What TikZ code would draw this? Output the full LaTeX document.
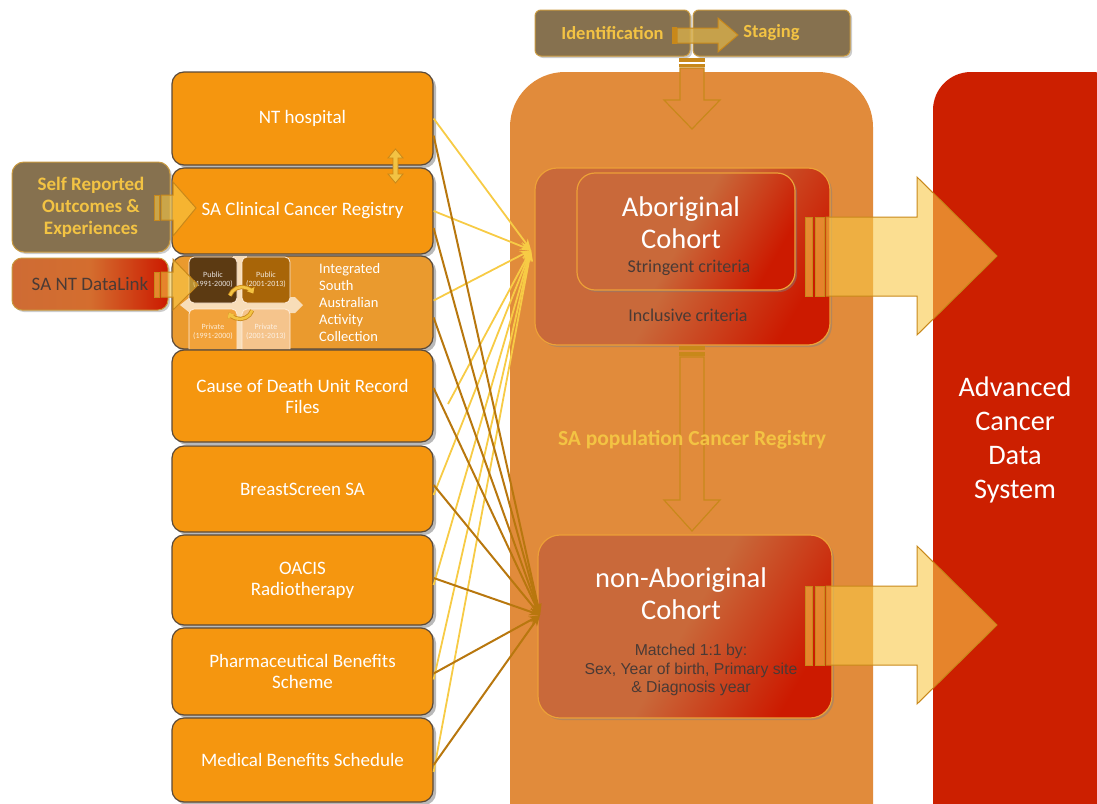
\documentclass[tikz,border=0pt]{standalone}
\usepackage{fontspec}
\setmainfont{Carlito}
\newfontfamily\arialf{Liberation Sans}
\usetikzlibrary{shadows,arrows.meta,calc}
\definecolor{srcorange}{HTML}{F5960F}
\definecolor{isaacorange}{HTML}{EA9A2E}
\definecolor{boxline}{HTML}{5A4A3A}
\definecolor{regbg}{HTML}{E18B3B}
\definecolor{olivebox}{HTML}{86714F}
\definecolor{goldtext}{HTML}{F3C343}
\definecolor{goldline}{HTML}{C99A40}
\definecolor{cohortbase}{HTML}{C9693A}
\definecolor{cohortred}{HTML}{CC1A00}
\definecolor{cohortline}{HTML}{EDA037}
\definecolor{darktext}{HTML}{4A3A35}
\definecolor{advred}{HTML}{CC1F00}
\definecolor{arrowfill}{HTML}{F8C848}
\definecolor{arrowline}{HTML}{C8881A}
\definecolor{ylline}{HTML}{F7CB45}
\definecolor{brline}{HTML}{B8770E}
\definecolor{pubA}{HTML}{5C3A12}
\definecolor{pubB}{HTML}{A86508}
\definecolor{privA}{HTML}{F2A23A}
\definecolor{privB}{HTML}{F5C48C}
\definecolor{crossc}{HTML}{F8DDB8}
\begin{document}
\begin{tikzpicture}[x=1pt,y=-1pt,
  srcbox/.style={draw=boxline, line width=1.2pt, fill=srcorange, rounded corners=12pt,
    minimum width=261pt, text=white, align=center, inner sep=2pt,
    font=\fontsize{19}{21}\selectfont,
    drop shadow={shadow xshift=3pt,shadow yshift=-3pt,opacity=0.55}},
  olive/.style={draw=goldline, line width=1pt, fill=olivebox, text=goldtext, align=center,
    font=\bfseries\fontsize{19}{22}\selectfont,
    drop shadow={shadow xshift=2pt,shadow yshift=-2pt,opacity=0.4}},
  cohort/.style={draw=cohortline, line width=1.2pt, rounded corners=22pt,
    left color=cohortbase, right color=cohortred, middle color=cohortbase, shading angle=60,
    drop shadow={shadow xshift=2pt,shadow yshift=-2pt,opacity=0.45}},
  blockarrow/.style={fill=arrowfill, fill opacity=0.6, draw=arrowline, line width=1pt},
  outlinearrow/.style={draw=arrowline, line width=1.2pt, fill=regbg},
  sq/.style={rounded corners=5pt, draw=white!85!orange, line width=0.8pt,
    font=\fontsize{8}{9}\selectfont, align=center},
  ylarrow/.style={draw=ylline, line width=1.8pt, -{Stealth[length=11pt,width=8pt]}},
  brarrow/.style={draw=brline, line width=2pt, -{Stealth[length=11pt,width=8pt]}},
  txt/.style={inner sep=0pt, align=center}
]
\useasboundingbox (0,0) rectangle (1097,803);
\clip (0,0) rectangle (1097,803);

% big background boxes
\fill[regbg, rounded corners=55pt] (510,72) rectangle (873,860);
\fill[advred, rounded corners=38pt] (933,72) rectangle (1130,860);
\node[txt, text=white, font=\fontsize{28.3}{34}\selectfont] (adv) at (1015,440)
  {Advanced\\Cancer\\Data\\System};

% identification / staging
\node[olive, rounded corners=6pt, minimum width=155pt, minimum height=46pt, font=\bfseries\fontsize{18.5}{22}\selectfont] (ident) at (612.5,33) {Identification};
\node[olive, rounded corners=6pt, minimum width=157pt, minimum height=46pt, font=\bfseries\fontsize{18.5}{22}\selectfont] (stag) at (771.5,33) {Staging};
\fill[arrowline] (672,27) rectangle (677,44);
\path[fill=arrowfill!70!olivebox, fill opacity=0.8, draw=arrowline, line width=1pt]
  (677,28) -- (718,28) -- (718,18) -- (738,35) -- (718,52) -- (718,43) -- (677,43) -- cycle;

% down arrow from top
\fill[arrowline] (679,58) rectangle (705,62);
\fill[arrowline] (679,64) rectangle (705,67);
\path[outlinearrow] (680,68) -- (704,68) -- (704,100) -- (720,100) -- (692,129) -- (664,100) -- (680,100) -- cycle;

% cohorts
\node[cohort, minimum width=295pt, minimum height=177pt] (abo) at (682.5,256.5) {};
\node[cohort, rounded corners=18pt, minimum width=218pt, minimum height=117pt] (aboin) at (686,231.5) {};
\node[txt, text=white, font=\fontsize{28.5}{32}\selectfont] (abot) at (681,223) {Aboriginal\\Cohort};
\node[txt, text=darktext, font=\fontsize{18}{19}\selectfont] (strg) at (689,268) {Stringent criteria};
\node[txt, text=darktext, font=\fontsize{18}{19}\selectfont] (incl) at (688,315) {Inclusive criteria};

\node[cohort, minimum width=294pt, minimum height=183pt] (non) at (685,626.5) {};
\node[txt, text=white, font=\fontsize{28.5}{32}\selectfont] (nont) at (681,594) {non-Aboriginal\\Cohort};
\node[txt, text=darktext, font=\arialf\fontsize{15.8}{18.5}\selectfont] (match) at (691,670)
  {Matched 1:1 by:\\Sex, Year of birth, Primary site\\\& Diagnosis year};

% middle down arrow
\fill[arrowline] (679,346) rectangle (705,350);
\fill[arrowline] (679,352) rectangle (705,356);
\path[outlinearrow] (680,357) -- (704,357) -- (704,500) -- (720,500) -- (692,531) -- (664,500) -- (680,500) -- cycle;

\node[txt, text=goldtext, font=\bfseries\fontsize{21.5}{22}\selectfont] (regt) at (692,440) {SA population Cancer Registry};

% right arrows
\foreach \yc in {256,625} {
  \path[blockarrow] (805,\yc-39) rectangle (812,\yc+40);
  \path[blockarrow] (815,\yc-39) rectangle (824,\yc+40);
  \path[blockarrow] (826,\yc-39) -- (917,\yc-39) -- (917,\yc-79) -- (997,\yc) -- (917,\yc+79) -- (917,\yc+40) -- (826,\yc+40) -- cycle;
}

% left source boxes
\node[srcbox, minimum height=93pt] (nt) at (302.5,118.5) {NT hospital};
\node[srcbox, minimum height=86pt] (sacr) at (302.5,211) {SA Clinical Cancer Registry};
\node[srcbox, fill=isaacorange, minimum height=93pt] (isaac) at (302.5,302.5) {};
\node[srcbox, minimum height=92pt] (cod) at (302.5,396) {Cause of Death Unit Record\\Files};
\node[srcbox, minimum height=86pt] (bss) at (302.5,489) {BreastScreen SA};
\node[srcbox, minimum height=90pt] (oacis) at (302.5,580) {OACIS\\Radiotherapy};
\node[srcbox, minimum height=87pt] (pbs) at (302.5,671.5) {Pharmaceutical Benefits\\Scheme};
\node[srcbox, minimum height=84pt] (mbs) at (302.5,760) {Medical Benefits Schedule};

% ISAAC inner graphic
\begin{scope}
\clip[rounded corners=12pt] (172,256) rectangle (433,349);
\fill[crossc] (180,305) -- (190,297) -- (295,297) -- (303,305) -- (295,313) -- (190,313) -- cycle;
\fill[crossc] (233,256) rectangle (247,349);
\node[sq, fill=pubA, text=white!85!pubA, minimum width=48pt, minimum height=46pt] (pub1) at (213,280) {Public\\(1991-2000)};
\node[sq, fill=pubB, text=white!85!pubB, minimum width=48pt, minimum height=46pt] (pub2) at (266,280) {Public\\(2001-2013)};
\node[sq, fill=privA, text=white!80!privA, minimum width=48pt, minimum height=46pt] (priv1) at (213,332) {Private\\(1991-2000)};
\node[sq, fill=privB, text=white!75!privB, minimum width=48pt, minimum height=46pt] (priv2) at (266,332) {Private\\(2001-2013)};
\foreach \lw/\col in {4.2pt/arrowline, 2.6pt/goldtext} {
  \draw[\col, line width=\lw, -{Triangle[length=5pt,width=8pt]}] (242,300) ++(200:13) arc[start angle=200, end angle=330, radius=13];
  \draw[\col, line width=\lw, -{Triangle[length=5pt,width=8pt]}] (240,306) ++(20:13) arc[start angle=20, end angle=150, radius=13];
}
\end{scope}
\node[txt, text=white, align=left, font=\fontsize{14.5}{17}\selectfont, anchor=west] (isaact) at (319,303)
  {Integrated\\South\\Australian\\Activity\\Collection};

% double arrow between NT hospital and SA Clinical
\path[fill=goldtext, draw=arrowline, line width=0.8pt]
  (395.5,149) -- (403,158) -- (398,158) -- (398,174) -- (403,174) -- (395.5,183) -- (388,174) -- (393,174) -- (393,158) -- (388,158) -- cycle;

% self reported / datalink
\node[olive, rounded corners=12pt, minimum width=158pt, minimum height=90pt] (self) at (91,207) {Self Reported\\Outcomes \&\\Experiences};
\node[draw=goldline, line width=1pt, rounded corners=10pt, minimum width=156pt, minimum height=52pt,
  left color=cohortbase!90!orange, right color=cohortred, middle color=cohortbase!80!orange, text=darktext,
  font=\fontsize{19}{20}\selectfont,
  drop shadow={shadow xshift=2pt,shadow yshift=-2pt,opacity=0.4}] (dl) at (90,284) {SA NT DataLink};

\path[blockarrow] (154,195) rectangle (159,220);
\path[blockarrow] (161,195) -- (173,195) -- (173,182) -- (196,208) -- (173,236) -- (173,220) -- (161,220) -- cycle;
\path[blockarrow] (154,272) rectangle (159,297);
\path[blockarrow] (161,272) -- (173,272) -- (173,259) -- (198,285) -- (173,310) -- (173,297) -- (161,297) -- cycle;

% connectors
\coordinate (abin) at (531,250);
\coordinate (nonin) at (540,615);
\coordinate (codys) at (448,404);
\draw[ylarrow] ($(nt.east)+(0,0)$) -- (abin);
\draw[ylarrow] ($(sacr.east)+(0,0)$) -- (abin);
\draw[ylarrow] ($(isaac.east)+(0,-2)$) -- (abin);
\draw[ylarrow] (codys) -- (abin);
\draw[ylarrow] ($(bss.east)+(0,6)$) -- (abin);
\draw[ylarrow] ($(oacis.east)+(0,5)$) -- (abin);
\draw[ylarrow] ($(pbs.east)+(0,8)$) -- (abin);
\draw[ylarrow] ($(mbs.east)+(0,12)$) -- (abin);
\draw[brarrow] ($(nt.east)+(0,17)$) -- (nonin);
\draw[brarrow] ($(sacr.east)+(0,17)$) -- (nonin);
\draw[brarrow] ($(isaac.east)+(0,15)$) -- (nonin);
\draw[brarrow] ($(cod.east)+(0,-8)$) -- (nonin);
\draw[brarrow] ($(bss.east)+(0,-4)$) -- (nonin);
\draw[brarrow] ($(oacis.east)+(0,-2)$) -- (nonin);
\draw[brarrow] ($(pbs.east)+(0,2)$) -- (nonin);
\draw[brarrow] ($(mbs.east)+(0,5)$) -- (nonin);
\end{tikzpicture}
\end{document}
